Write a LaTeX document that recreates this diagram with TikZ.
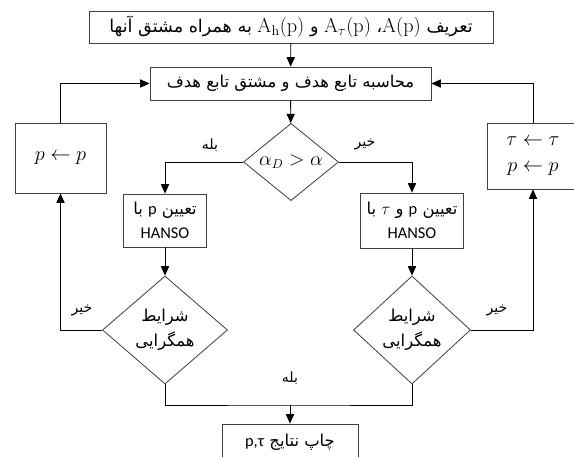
\documentclass[tikz,border=0pt]{standalone}
\usepackage[no-math]{fontspec}
\setmainfont{Carlito}
\newfontfamily\farsi[Script=Arabic]{DejaVu Sans}
\TeXXeTstate=1
\usetikzlibrary{positioning, arrows.meta, shapes.geometric}
\newcommand{\fa}[1]{{\farsi\beginR #1\endR}}
\newcommand{\lt}[1]{{\rmfamily\beginL #1\endL}}
\newcommand{\bigmath}[1]{{\fontsize{17}{21}\selectfont\lt{#1}}}

\begin{document}
\begin{tikzpicture}[x=0.03cm, y=-0.03cm]
\tikzstyle{box}=[rectangle, draw=black!75, line width=0.7pt, align=center, inner sep=2pt, font=\fontsize{14}{21}\selectfont]
\tikzstyle{dec}=[diamond, draw=black!75, line width=0.7pt, align=center, inner sep=0pt, aspect=1, font=\fontsize{14}{21}\selectfont]
\tikzstyle{connect}=[-{Triangle[width=7pt, length=8pt]}, line width=0.7pt]
\tikzstyle{lbl}=[font=\fontsize{12}{14}\selectfont]
\useasboundingbox (0,0) rectangle (574,457);
% 2. Nodes
%%%%%%%%%%
\node[box, minimum width=12.12cm, minimum height=0.96cm, font=\fontsize{15}{21}\selectfont] (def) at (291,27)
  {\fa{تعریف \bigmath{$\mathrm{A}(\mathrm{p})$}، \bigmath{$\mathrm{A}_\tau(\mathrm{p})$} و \bigmath{$\mathrm{A}_\mathrm{h}(\mathrm{p})$} به همراه مشتق آنها}};
\node[box, minimum width=8.43cm, minimum height=0.99cm] (obj) at (290.5,83.5)
  {\fa{محاسبه تابع هدف و مشتق تابع هدف}};
\node[dec, minimum width=2.85cm, minimum height=2.31cm, font=\fontsize{16}{20}\selectfont] (alpha) at (291,162)
  {$\alpha_D > \alpha$};
\node[box, minimum width=2.49cm, minimum height=1.59cm] (hp) at (165,220.5)
  {\fa{تعیین \lt{p} با}\\HANSO};
\node[box, minimum width=3.09cm, minimum height=1.65cm] (hpt) at (412,220.5)
  {\fa{تعیین \lt{p} و \lt{$\tau$} با}\\HANSO};
\node[dec, minimum width=3.75cm, minimum height=3.24cm] (convp) at (165,330)
  {\fa{شرایط}\\\fa{همگرایی}};
\node[dec, minimum width=3.51cm, minimum height=3.24cm] (convpt) at (412,330)
  {\fa{شرایط}\\\fa{همگرایی}};
\node[box, minimum width=2.73cm, minimum height=2.1cm, font=\fontsize{16}{20}\selectfont] (updp) at (60.5,158)
  {$p \leftarrow p$};
\node[box, minimum width=2.76cm, minimum height=1.98cm, font=\fontsize{16}{22}\selectfont] (updpt) at (533,156)
  {$\tau \leftarrow \tau$\\$p \leftarrow p$};
\node[box, minimum width=4.08cm, minimum height=1.08cm] (res) at (290,442)
  {\fa{چاپ نتایج \lt{p,τ}}};
\coordinate (join) at (290,405);

\node[lbl] (yes1) at (210,145) {\fa{بله}};
\node[lbl] (no1) at (365,144) {\fa{خیر}};
\node[lbl] (no2) at (82,310) {\fa{خیر}};
\node[lbl] (no3) at (497,310) {\fa{خیر}};
\node[lbl] (yes2) at (290,378) {\fa{بله}};
% 3. Arrows
%%%%%%%%%%%
\draw[connect] (def) -- (obj);
\draw[connect] (obj) -- (alpha);
\draw[connect] (alpha.west) -| (hp.north);
\draw[connect] (alpha.east) -| (hpt.north);
\draw[connect] (hp) -- (convp);
\draw[connect] (hpt) -- (convpt);
\draw[connect] (convp.west) -| (updp.south);
\draw[connect] (convpt.east) -| (updpt.south);
\draw[connect] (updp.north) |- (obj.west);
\draw[connect] (updpt.north) |- (obj.east);
\draw[line width=0.7pt] (convp.south) |- (join) -| (convpt.south);
\draw[connect] (join) -- (res);

\end{tikzpicture}
\end{document}
